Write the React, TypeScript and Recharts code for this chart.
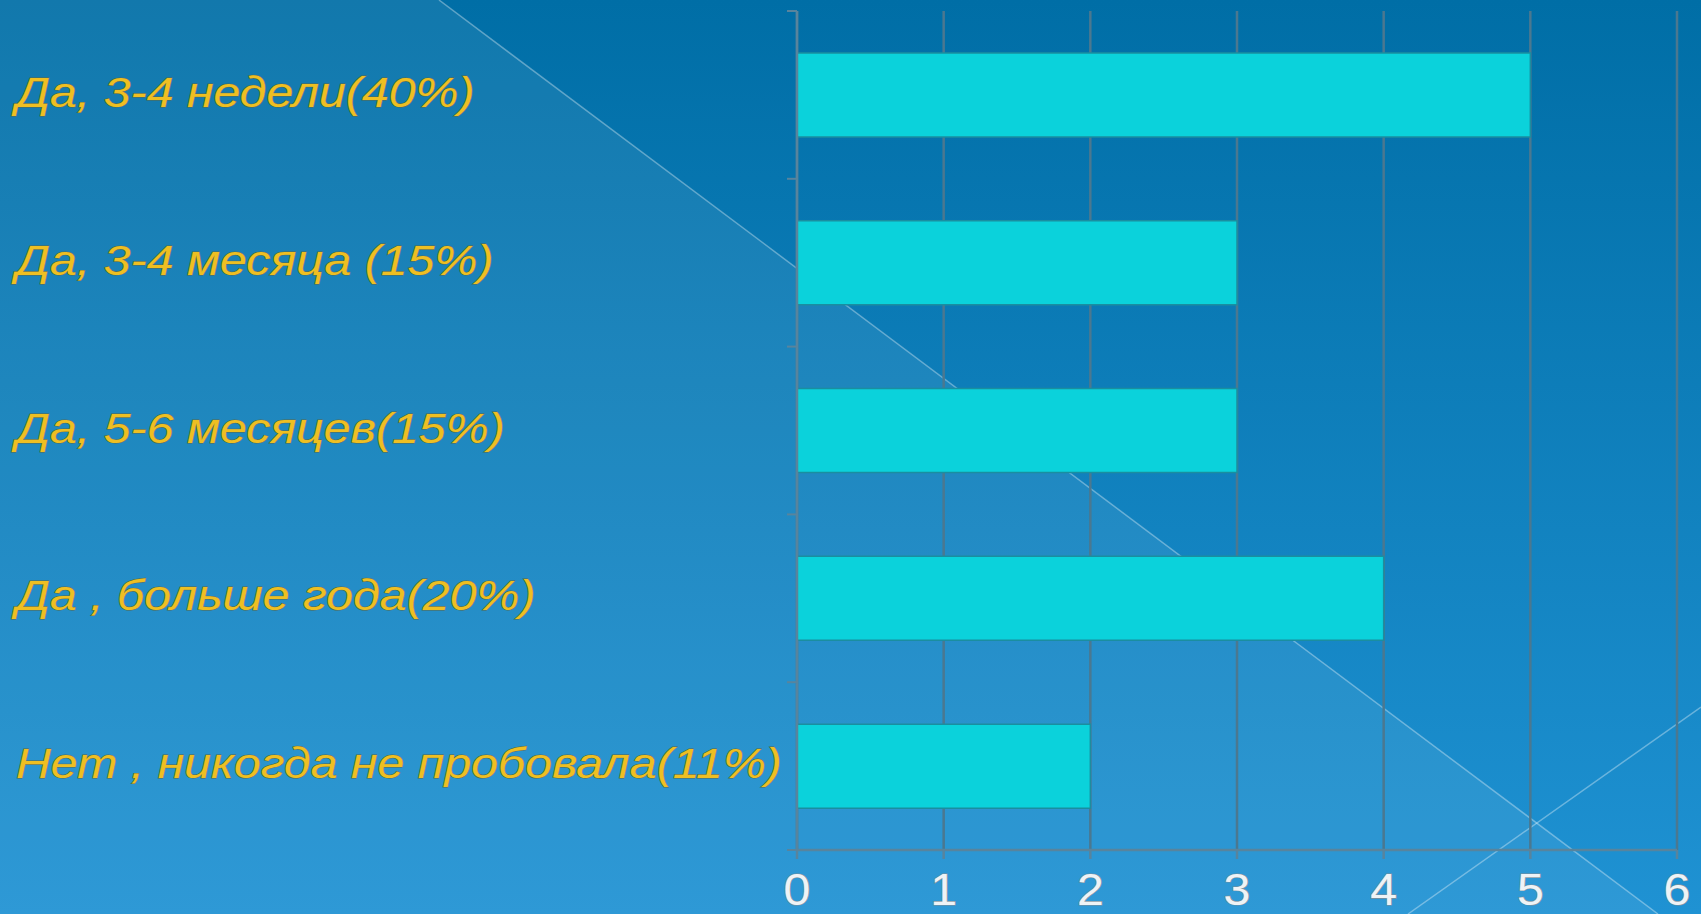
import { BarChart, Bar, XAxis, YAxis, CartesianGrid } from 'recharts';

const categories = [
  'Да, 3-4 недели(40%)',
  'Да, 3-4 месяца (15%)',
  'Да, 5-6 месяцев(15%)',
  'Да , больше года(20%)',
  'Нет , никогда не пробовала(11%)',
];
const counts = [5, 3, 3, 4, 2];
const xTicks = [0, 1, 2, 3, 4, 5, 6];

const data = categories.map((label, i) => ({ label, count: counts[i] }));

const W = 1701;
const H = 914;
const margin = { top: 11, right: 24, bottom: 0, left: 0 };
const X_AXIS_H = 64;
const Y_AXIS_W = 797;
const plotH = H - margin.top - X_AXIS_H;
const band = plotH / categories.length;
const axisColor = '#58849d';
const gridColor = '#4b7890';

function CategoryTick(props: any) {
  const { y, payload, index } = props;
  const axisX = margin.left + Y_AXIS_W;
  const last = index === categories.length - 1;
  return (
    <g>
      <line x1={axisX - 10} x2={axisX} y1={y - band / 2} y2={y - band / 2} stroke={axisColor} strokeWidth={2} />
      {last && (
        <line x1={axisX - 10} x2={axisX} y1={y + band / 2} y2={y + band / 2} stroke={axisColor} strokeWidth={2} />
      )}
      <text
        transform={`translate(16 ${y + 12}) scale(1.15 1)`}
        fontFamily="'Liberation Sans', Arial, sans-serif"
        fontStyle="italic"
        fontSize={42}
        fill="#eebf22"
        stroke="#5a6a4a"
        strokeWidth={1}
        paintOrder="stroke"
        textAnchor="start"
      >
        {payload.value}
      </text>
    </g>
  );
}

function ValueTick(props: any) {
  const { x, payload } = props;
  const baseline = H - X_AXIS_H + 55;
  return (
    <text
      transform={`translate(${x} ${baseline}) scale(1.1 1)`}
      fontFamily="'Liberation Sans', Arial, sans-serif"
      fontSize={44}
      fill="#eef3f6"
      stroke="#7d8f9a"
      strokeWidth={1.2}
      paintOrder="stroke"
      textAnchor="middle"
    >
      {payload.value}
    </text>
  );
}

export default function App() {
  return (
    <div style={{ position: 'fixed', left: 0, top: 0, width: W, height: H, overflow: 'hidden' }}>
      <svg width={W} height={H} style={{ position: 'absolute', left: 0, top: 0 }}>
        <defs>
          <linearGradient id="bg" x1="0" y1="0" x2="0" y2="1">
            <stop offset="0%" stopColor="#006ea6" />
            <stop offset="100%" stopColor="#1f92d3" />
          </linearGradient>
        </defs>
        <rect x={0} y={0} width={W} height={H} fill="url(#bg)" />
        <polygon points={`0,0 439,0 1658,${H} 0,${H}`} fill="#ffffff" fillOpacity={0.07} />
        <line x1={439} y1={0} x2={1658} y2={H} stroke="#ffffff" strokeOpacity={0.35} strokeWidth={1.5} />
        <line x1={1408} y1={H} x2={W} y2={707} stroke="#ffffff" strokeOpacity={0.35} strokeWidth={1.5} />
      </svg>
      <div style={{ position: 'absolute', left: 0, top: 0 }}>
        <BarChart width={W} height={H} data={data} layout="vertical" margin={margin} barCategoryGap="25%">
          <CartesianGrid horizontal={false} stroke={gridColor} strokeWidth={2.5} />
          <XAxis
            type="number"
            domain={[0, 6]}
            ticks={xTicks}
            interval={0}
            height={X_AXIS_H}
            axisLine={{ stroke: axisColor, strokeWidth: 2.5 }}
            tickLine={{ stroke: axisColor, strokeWidth: 2.5 }}
            tickSize={9}
            tick={(p: any) => <ValueTick {...p} />}
          />
          <YAxis
            type="category"
            dataKey="label"
            width={Y_AXIS_W}
            axisLine={{ stroke: axisColor, strokeWidth: 2.5 }}
            tickLine={false}
            interval={0}
            tick={(p: any) => <CategoryTick {...p} />}
          />
          <Bar dataKey="count" fill="#0bd2db" stroke="#1a8ea0" strokeWidth={1.5} isAnimationActive={false} />
        </BarChart>
      </div>
    </div>
  );
}
